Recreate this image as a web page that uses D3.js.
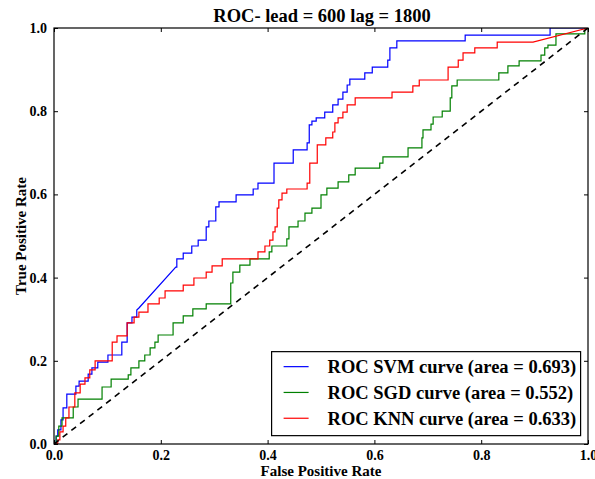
<!DOCTYPE html>
<html>
<head>
<meta charset="utf-8">
<script src="https://cdn.jsdelivr.net/npm/d3@7"></script>
<style>
  body { margin: 0; background: #fff; }
  text { font-family: "Liberation Serif", "DejaVu Serif", serif; font-weight: bold; }
</style>
</head>
<body>
<div id="chart"></div>
<script>
// ROC curves as [false positive rate, true positive rate]
var svmRoc = [[0,0],[.004,0],[.004,.019],[.007,.019],[.007,.034],[.013,.034],[.013,.058],[.017,.058],[.017,.087],[.024,.087],
  [.024,.120],[.041,.120],[.041,.139],[.047,.139],[.047,.151],[.064,.151],[.064,.168],[.071,.168],[.071,.183],[.082,.183],
  [.082,.197],[.101,.197],[.101,.214],[.127,.214],[.127,.245],[.137,.245],[.137,.291],[.146,.291],[.146,.305],[.155,.305],
  [.155,.322],[.159,.327],[.228,.425],[.230,.425],[.230,.445],[.242,.445],[.242,.459],[.258,.459],[.258,.476],[.270,.476],
  [.270,.490],[.285,.490],[.285,.522],[.290,.522],[.290,.536],[.303,.536],[.303,.570],[.309,.570],[.309,.582],[.341,.582],
  [.341,.599],[.373,.599],[.373,.613],[.382,.613],[.382,.627],[.412,.627],[.412,.675],[.448,.675],[.448,.707],[.474,.707],
  [.474,.724],[.478,.724],[.478,.767],[.483,.767],[.483,.776],[.491,.776],[.491,.784],[.507,.784],[.507,.798],[.522,.798],
  [.522,.815],[.532,.815],[.532,.829],[.541,.829],[.541,.846],[.549,.846],[.549,.863],[.554,.863],[.554,.877],[.582,.877],
  [.582,.892],[.596,.892],[.596,.906],[.625,.906],[.625,.923],[.629,.923],[.629,.952],[.642,.952],[.642,.969],[.770,.969],
  [.770,.983],[.929,.983],[.929,1],[1,1]];

var sgdRoc = [[0,0],[.004,0],[.004,.019],[.009,.019],[.009,.043],[.015,.043],[.015,.063],[.036,.063],[.036,.089],[.045,.089],
  [.045,.108],[.090,.108],[.090,.137],[.107,.137],[.107,.156],[.139,.156],[.139,.166],[.144,.166],[.144,.183],[.159,.183],
  [.159,.200],[.170,.200],[.170,.214],[.180,.214],[.180,.231],[.189,.231],[.189,.245],[.195,.245],[.195,.262],[.223,.262],
  [.223,.291],[.242,.291],[.242,.308],[.260,.308],[.260,.325],[.285,.325],[.285,.337],[.331,.337],[.331,.387],[.335,.387],
  [.335,.413],[.348,.413],[.348,.430],[.367,.430],[.367,.445],[.403,.445],[.403,.462],[.408,.462],[.408,.476],[.436,.476],
  [.436,.493],[.440,.493],[.440,.522],[.457,.522],[.457,.536],[.470,.536],[.470,.555],[.483,.555],[.483,.567],[.500,.567],
  [.500,.599],[.511,.599],[.511,.615],[.532,.615],[.532,.630],[.552,.630],[.552,.647],[.564,.647],[.564,.663],[.610,.663],
  [.610,.675],[.616,.675],[.616,.690],[.663,.690],[.663,.712],[.689,.712],[.689,.736],[.691,.736],[.691,.755],[.706,.755],
  [.706,.769],[.710,.769],[.710,.786],[.727,.786],[.727,.800],[.742,.800],[.742,.832],[.745,.832],[.745,.861],[.755,.861],
  [.755,.875],[.833,.875],[.833,.892],[.850,.892],[.850,.909],[.871,.909],[.871,.921],[.912,.921],[.912,.935],[.919,.935],
  [.919,.952],[.925,.952],[.925,.959],[.940,.959],[.940,.986],[.994,.986],[.994,.995],[1,1]];

var knnRoc = [[0,0],[.007,0],[.007,.010],[.011,.010],[.011,.029],[.017,.029],[.017,.043],[.022,.043],[.022,.063],[.028,.063],
  [.028,.089],[.039,.089],[.039,.123],[.049,.123],[.049,.144],[.058,.144],[.058,.159],[.067,.159],[.067,.178],[.077,.178],
  [.077,.200],[.109,.200],[.109,.245],[.118,.245],[.118,.260],[.137,.260],[.137,.291],[.150,.291],[.150,.305],[.159,.305],
  [.159,.317],[.176,.317],[.176,.337],[.197,.337],[.197,.351],[.208,.351],[.208,.368],[.242,.368],[.242,.382],[.262,.382],
  [.262,.399],[.285,.399],[.285,.413],[.296,.413],[.296,.428],[.315,.428],[.315,.445],[.382,.445],[.382,.462],[.395,.462],
  [.395,.476],[.404,.476],[.404,.490],[.410,.490],[.410,.510],[.414,.510],[.414,.522],[.418,.522],[.418,.567],[.421,.567],
  [.421,.587],[.427,.587],[.427,.603],[.436,.603],[.436,.613],[.474,.613],[.474,.627],[.479,.627],[.479,.675],[.493,.675],
  [.493,.719],[.509,.719],[.509,.736],[.522,.736],[.522,.750],[.526,.750],[.526,.772],[.532,.772],[.532,.784],[.541,.784],
  [.541,.798],[.549,.798],[.549,.815],[.564,.815],[.564,.832],[.633,.832],[.633,.846],[.672,.846],[.672,.861],[.684,.861],
  [.684,.875],[.738,.875],[.738,.906],[.757,.906],[.757,.923],[.766,.923],[.766,.940],[.788,.940],[.788,.952],[.830,.952],
  [.830,.966],[.897,.966],[1,1]];

var chancePoints = [[0,0],[1,1]];

var seriesNames = ["ROC SVM curve", "ROC SGD curve", "ROC KNN curve"];
var seriesAreas = [0.693, 0.552, 0.633];
var seriesColors = ["#0000ff", "#008000", "#ff0000"];
var seriesData = [svmRoc, sgdRoc, knnRoc];

var tickValues = [0, 0.2, 0.4, 0.6, 0.8, 1.0];

var width = 595, height = 479;
var margin = {top: 28, right: 7, bottom: 35, left: 54};
var w = width - margin.left - margin.right;
var h = height - margin.top - margin.bottom;

var svg = d3.select("#chart")
	.append("svg")
	.attr("width", width)
	.attr("height", height);

var g = svg.append("g").attr("transform", "translate(" + margin.left + "," + margin.top + ")");

var x = d3.scaleLinear().domain([0, 1]).range([0, w]);
var y = d3.scaleLinear().domain([0, 1]).range([h, 0]);

var fmt = d3.format(".1f");

// axes with inward ticks on all four sides
var xAxis = g.append("g")
	.attr("transform", "translate(0," + h + ")")
	.call(d3.axisBottom(x).tickValues(tickValues).tickFormat(fmt).tickSizeInner(-4).tickSizeOuter(0).tickPadding(6));
var yAxis = g.append("g")
	.call(d3.axisLeft(y).tickValues(tickValues).tickFormat(fmt).tickSizeInner(-4).tickSizeOuter(0).tickPadding(7));
var topAxis = g.append("g")
	.call(d3.axisTop(x).tickValues(tickValues).tickFormat("").tickSizeInner(-4).tickSizeOuter(0));
var rightAxis = g.append("g")
	.attr("transform", "translate(" + w + ",0)")
	.call(d3.axisRight(y).tickValues(tickValues).tickFormat("").tickSizeInner(-4).tickSizeOuter(0));

[xAxis, yAxis, topAxis, rightAxis].forEach(function(a) {
	a.select(".domain").remove();
	a.selectAll("line").attr("stroke", "#000").attr("stroke-width", 1);
	a.selectAll("text")
		.attr("fill", "#000")
		.style("font-family", "'Liberation Serif', serif")
		.style("font-weight", "bold")
		.style("font-size", "14px");
});

var line = d3.line()
	.x(function(d) { return x(d[0]); })
	.y(function(d) { return y(d[1]); });

// the curves, clipped to the axes box
svg.append("defs").append("clipPath").attr("id", "plotclip")
	.append("rect").attr("width", w).attr("height", h);

var plot = g.append("g").attr("clip-path", "url(#plotclip)");

seriesData.forEach(function(d, i) {
	plot.append("path")
		.datum(d)
		.attr("fill", "none")
		.attr("stroke", seriesColors[i])
		.attr("stroke-width", 1.2)
		.attr("stroke-linejoin", "miter")
		.attr("d", line);
});

plot.append("path")
	.datum(chancePoints)
	.attr("fill", "none")
	.attr("stroke", "#000")
	.attr("stroke-width", 1.6)
	.attr("stroke-dasharray", "6,5")
	.attr("d", line);

// frame
g.append("rect")
	.attr("width", w)
	.attr("height", h)
	.attr("fill", "none")
	.attr("stroke", "#000")
	.attr("stroke-width", 1.2);

// title and axis labels
svg.append("text")
	.attr("x", margin.left + w / 2 + 1)
	.attr("y", 22)
	.attr("text-anchor", "middle")
	.style("font-size", "18.5px")
	.text("ROC- lead = 600 lag = 1800");

svg.append("text")
	.attr("x", margin.left + w / 2)
	.attr("y", 476)
	.attr("text-anchor", "middle")
	.style("font-size", "15px")
	.text("False Positive Rate");

svg.append("text")
	.attr("transform", "translate(26," + (margin.top + h / 2) + ") rotate(-90)")
	.attr("text-anchor", "middle")
	.style("font-size", "15px")
	.text("True Positive Rate");

// legend
var legend = g.append("g").attr("transform", "translate(" + (x(0.4) + 4) + "," + (y(0.222)) + ")");
legend.append("rect")
	.attr("width", 309)
	.attr("height", 84)
	.attr("fill", "#fff")
	.attr("stroke", "#000")
	.attr("stroke-width", 1.2);

seriesNames.forEach(function(name, i) {
	var row = legend.append("g").attr("transform", "translate(0," + (15 + i * 25.8) + ")");
	row.append("line")
		.attr("x1", 12).attr("x2", 37)
		.attr("stroke", seriesColors[i])
		.attr("stroke-width", 1.2);
	row.append("text")
		.attr("x", 56)
		.attr("dy", "0.35em")
		.style("font-size", "18.5px")
		.text(name + " (area = " + seriesAreas[i].toFixed(3) + ")");
});
</script>
</body>
</html>
